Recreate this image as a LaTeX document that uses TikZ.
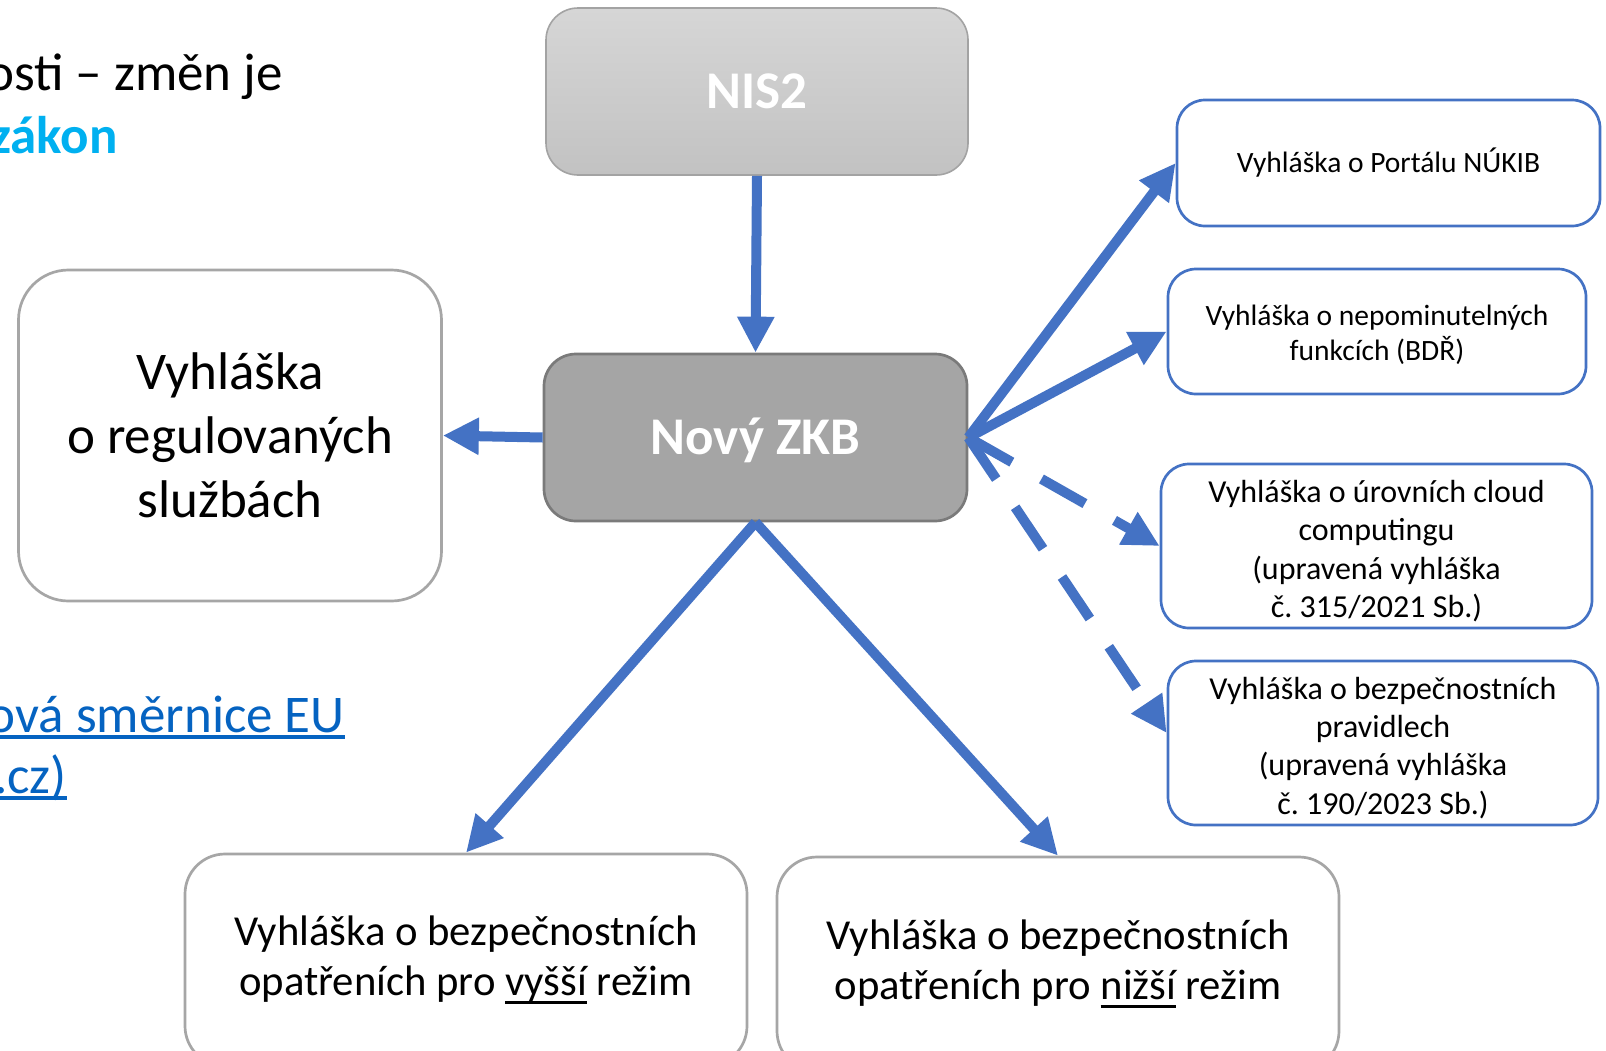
\documentclass[tikz,border=0pt]{standalone}
\usepackage{fontspec}
\setmainfont{Carlito}
\usetikzlibrary{arrows.meta}
\definecolor{arrowblue}{HTML}{4472C4}
\definecolor{boxgray}{HTML}{A6A6A6}
\definecolor{zkbfill}{HTML}{A5A5A5}
\definecolor{zkbdraw}{HTML}{7A7A7A}
\definecolor{nistop}{HTML}{D6D6D6}
\definecolor{nisbot}{HTML}{C2C2C2}
\definecolor{nisdraw}{HTML}{A3A3A3}
\definecolor{cyanword}{HTML}{00B0F0}
\definecolor{linkblue}{HTML}{0563C1}
\newcommand{\myul}[1]{\setbox0\hbox{#1}\rlap{\rule[-0.2em]{\wd0}{0.08em}}\box0\relax}
\newcommand{\linkul}[1]{\setbox0\hbox{#1}\rlap{\rule[-0.13em]{\wd0}{0.075em}}\box0\relax}
\newcommand{\tstrut}[1]{\rule{0pt}{#1}}
\frenchspacing
\begin{document}
\begin{tikzpicture}[x=1pt,y=-1pt,
  conn/.style={line width=10pt, draw=arrowblue, -{Triangle[length=36pt,width=35pt]}},
  dconn/.style={conn, dash pattern=on 50pt off 34pt},
  graybox/.style={draw=boxgray, line width=2.7pt, fill=white, align=center, inner sep=0pt},
  bluebox/.style={draw=arrowblue, line width=2.7pt, rounded corners=28pt, fill=white, align=center, inner sep=0pt},
  bigtext/.style={font=\fontsize{53}{62}\selectfont},
  plain/.style={inner sep=0pt, anchor=base east}
]
\useasboundingbox (0,0) rectangle (1606,1050);
\clip (0,0) rectangle (1606,1050);
\fill[white] (0,0) rectangle (1606,1050);

% cut-off slide text
\node[plain, bigtext] (t1) at (283,90) {osti – změn je};
\node[plain, font=\fontsize{53}{62}\selectfont\bfseries, text=cyanword] (t2) at (118,153) {zákon};
\node[plain, bigtext, text=linkblue] (l1) at (345,732) {\linkul{ová směrnice EU}};
\node[plain, bigtext, text=linkblue] (l2) at (67,793) {\linkul{.cz)}};

% main boxes
\node[minimum width=422pt, minimum height=167pt, rounded corners=32pt,
      top color=nistop, bottom color=nisbot, draw=nisdraw, line width=1.6pt,
      font=\fontsize{53}{60}\selectfont\bfseries, text=white,
      text height=34pt, text depth=0pt, inner sep=0pt] (nis) at (757,91.5) {NIS2};
\node[minimum width=423pt, minimum height=167pt, rounded corners=32pt,
      fill=zkbfill, draw=zkbdraw, line width=2.7pt,
      font=\fontsize{53}{60}\selectfont\bfseries, text=white,
      text height=34pt, text depth=0pt, inner sep=0pt] (zkb) at (755.5,437.5) {Nový ZKB};

\node[graybox, rounded corners=50pt, minimum width=423pt, minimum height=331pt,
      font=\fontsize{53}{64}\selectfont] (reg) at (230,435.5)
      {Vyhláška\\o regulovaných\\službách};

\node[graybox, rounded corners=40pt, minimum width=562pt, minimum height=212pt,
      font=\fontsize{42.7}{50.5}\selectfont] (bl) at (466,960)
      {Vyhláška o bezpečnostních\\opatřeních pro \myul{vyšší} režim};
\node[graybox, rounded corners=40pt, minimum width=562pt, minimum height=214pt,
      font=\fontsize{42.7}{50.5}\selectfont] (br) at (1058,964)
      {Vyhláška o bezpečnostních\\opatřeních pro \myul{nižší} režim};

\node[bluebox, minimum width=423pt, minimum height=126pt,
      font=\fontsize{29.5}{35}\selectfont] (r1) at (1388.5,163)
      {Vyhláška o Portálu NÚKIB};
\node[bluebox, minimum width=418pt, minimum height=125pt,
      font=\fontsize{29.5}{35}\selectfont] (r2) at (1377,331.5)
      {\tstrut{27pt}Vyhláška o nepominutelných\\funkcích (BDŘ)};
\node[bluebox, minimum width=431pt, minimum height=164pt,
      font=\fontsize{32}{38.5}\selectfont] (r3) at (1376.5,546)
      {\tstrut{32pt}Vyhláška o úrovních cloud\\computingu\\(upravená vyhláška\\č. 315/2021 Sb.)};
\node[bluebox, minimum width=430pt, minimum height=164pt,
      font=\fontsize{32}{38.3}\selectfont] (r4) at (1383,743)
      {\tstrut{32pt}Vyhláška o bezpečnostních\\pravidlech\\(upravená vyhláška\\č. 190/2023 Sb.)};

% connectors
\draw[conn] (nis.south) -- (zkb.north);
\draw[conn] (zkb.west) -- (reg.east);
\draw[conn] (zkb.east) -- (r1.west);
\draw[conn] (zkb.east) -- (r2.west);
\draw[dconn] (zkb.east) -- (r3.west);
\draw[dconn] (zkb.east) -- ([yshift=10pt]r4.west);
\draw[conn] (zkb.south) -- (bl.north);
\draw[conn] (zkb.south) -- (br.north);
\end{tikzpicture}
\end{document}
